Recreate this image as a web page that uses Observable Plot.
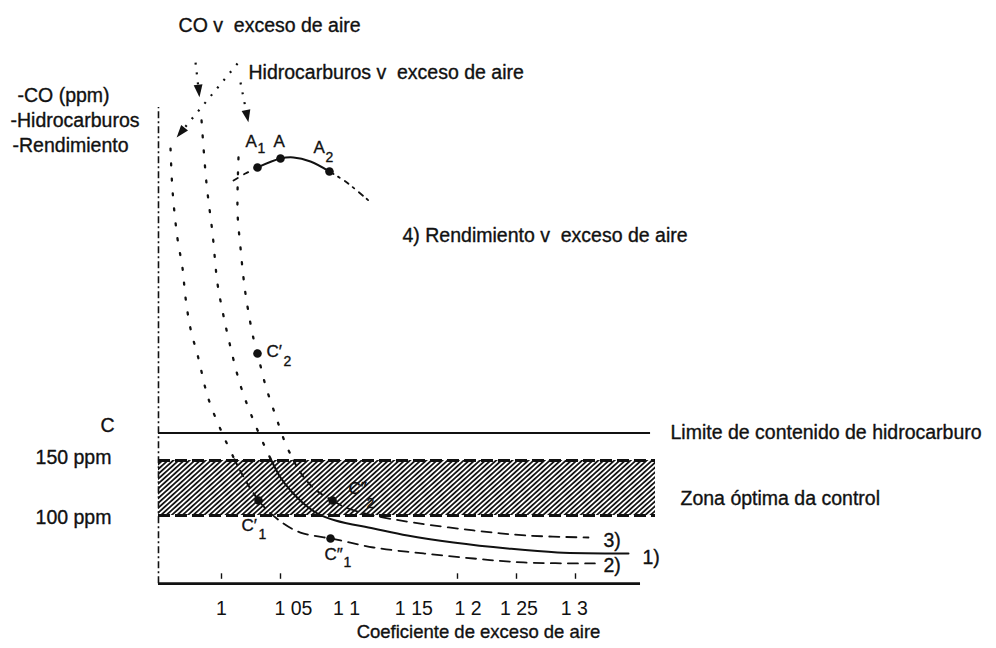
<!DOCTYPE html>
<html>
<head>
<meta charset="utf-8">
<script src="https://cdn.jsdelivr.net/npm/d3@7"></script>
<script src="https://cdn.jsdelivr.net/npm/@observablehq/plot@0.6"></script>
<style>
  html, body { margin: 0; padding: 0; background: #fff; }
  svg { display: block; }
</style>
</head>
<body>
<div id="chart"></div>
<script>
// ---------- data (x: coeficiente de exceso de aire, y: ppm-like vertical units) ----------
const xTickPos = [1, 1.061, 1.106, 1.163, 1.209, 1.252, 1.299];
const xTickLabels = ["1", "1 05", "1 1", "1 15", "1 2", "1 25", "1 3"];
const xTickMarks = [1, 1.05, 1.2, 1.25, 1.3];

const yAxisBase = 38;       // bottom axis line
const yAxisTop = 471;       // top of the vertical axis
const xAxisLeft = 0.9466;
const xAxisRight = 1.3551;
const limitC = 175;         // C: límite de contenido de hidrocarburo
const limitRight = 1.3636;
const zone = {lo: 100, hi: 150, right: 1.3678};

// curve a (dotted) -> curve 2
const curveA_dot = [[0.9568,433.6],[0.9585,395.5],[0.9627,351.8],[0.9669,325.5],[0.9695,298.2],[0.9737,270],[0.9805,242.7],[0.9864,215.5],[0.9915,198.2],[1.0034,168.2],[1.0110,151]];
const curveA_dash = [[1.0110,151],[1.0144,143.6],[1.0229,127.3],[1.0314,113.6]];
const curve2 = [[1.0314,113.6],[1.0373,106.4],[1.0525,92.7],[1.0669,84.5],[1.0924,79.1],[1.1008,77.3],[1.1288,70.9],[1.1712,65.5],[1.2136,60.9],[1.2559,57.3],[1.3186,56.4]];

// curve b (dotted) -> curve 1 (solid)
const curveB_dot = [[0.9831,459.1],[0.9873,401.8],[0.9924,356.4],[0.9966,310.9],[1.0008,286.4],[1.0059,260.9],[1.0161,218.2],[1.0271,186.4],[1.0390,157.3],[1.0415,151.8]];
const curve1 = [[1.0415,151.8],[1.05,134.5],[1.0585,122.7],[1.0695,110.9],[1.0814,101.8],[1.0966,95.5],[1.1288,88.2],[1.1576,81.8],[1.1966,75.5],[1.2424,70.0],[1.2847,66.4],[1.3449,65.5]];

// curve c (dotted) -> curve 3
const curveC_dot = [[1.0144,425.5],[1.0136,375.5],[1.0161,343.6],[1.0186,316.4],[1.0212,295.5],[1.0271,260.9],[1.0305,247.3],[1.0373,218.2],[1.0458,190.9],[1.0542,165.5],[1.0610,150]];
const curveC_dash = [[1.0610,150],[1.0686,136.4],[1.0805,122.7],[1.0941,113.6]];
const curve3 = [[1.0941,113.6],[1.1051,107.3],[1.1288,100],[1.1627,93.6],[1.2136,86.4],[1.2593,81.8],[1.3110,80]];

// curve 4: rendimiento
const curve4_left = [[1.0102,404.5],[1.0203,410.9],[1.0305,416.4]];
const curve4_mid = [[1.0305,416.4],[1.05,424.5],[1.061,425.5],[1.0754,421.8],[1.0915,412.7]];
const curve4_right = [[1.0915,412.7],[1.1051,403.6],[1.1246,386.4]];

// marked points
const points = [[1.0305,416.4],[1.05,424.5],[1.0915,412.7],[1.0305,247.3],[1.0314,113.6],[1.0941,113.6],[1.0924,79.1]];

// arrows: from -> head
const arrowFrom = [[0.9780,511.8],[1.0136,510.9],[1.0161,493.6]];
const arrowHead = [[0.9806,487.3],[0.9662,449.2],[1.0215,464.4]];

// point labels (start-anchored) and their subscripts
const bigLabels = [
  {t:"A", x:1.0203, y:440}, {t:"A", x:1.0441, y:440}, {t:"A", x:1.0780, y:434.5},
  {t:"C′", x:1.0381, y:249.1}, {t:"C′", x:1.0169, y:90.9},
  {t:"C″", x:1.0873, y:64.5}, {t:"C″", x:1.1076, y:124.5}
];
const subLabels = [
  {t:"1", x:1.0305, y:433.6}, {t:"2", x:1.0881, y:425.5},
  {t:"2", x:1.0525, y:240},   {t:"1", x:1.0314, y:82.7},
  {t:"1", x:1.1034, y:57.3},  {t:"2", x:1.1229, y:110.9}
];

// text annotations (start-anchored)
const texts = [
  {t:"CO v  exceso de aire", x:0.9636, y:545.5},
  {t:"Hidrocarburos v  exceso de aire", x:1.0229, y:502.7},
  {t:"-CO (ppm)", x:0.8271, y:481.8},
  {t:"-Hidrocarburos", x:0.8212, y:459.1},
  {t:"-Rendimiento", x:0.8229, y:436.4},
  {t:"4) Rendimiento v  exceso de aire", x:1.1534, y:354.5},
  {t:"C", x:0.8975, y:181.8},
  {t:"150 ppm", x:0.8424, y:152.7},
  {t:"100 ppm", x:0.8424, y:98.2},
  {t:"Limite de contenido de hidrocarburo", x:1.3805, y:175.5},
  {t:"Zona óptima da control", x:1.3890, y:115.5},
  {t:"3)", x:1.3237, y:77.3},
  {t:"1)", x:1.3568, y:61.8},
  {t:"2)", x:1.3237, y:54.5}
];
const xTitle = {t:"Coeficiente de exceso de aire", x:1.2178, y:-6.4};

// ---------- chart ----------
const xCfg = {domain: [1, 1.3], range: [221, 575]};
const yCfg = {domain: [100, 150], range: [515, 460]};
const px = d3.scaleLinear(xCfg.domain, xCfg.range);
const py = d3.scaleLinear(yCfg.domain, yCfg.range);

const arrows = arrowFrom.map((f, i) => ({from: f, to: arrowHead[i]}));
const angle = d => {
  const dx = px(d.to[0]) - px(d.from[0]);
  const dy = py(d.to[1]) - py(d.from[1]);
  return Math.atan2(dx, -dy) * 180 / Math.PI;
};
const arrowSymbol = {
  draw(c, size) {
    const r = Math.sqrt(size / Math.PI);
    c.moveTo(0, -1.5 * r);
    c.lineTo(0.85 * r, 0.9 * r);
    c.lineTo(-0.85 * r, 0.9 * r);
    c.closePath();
  }
};

const ink = "#111";
const FONT = "Liberation Sans, Arial, Helvetica, sans-serif";
const textInk = {fill: ink, stroke: ink, strokeWidth: 0.35, fontFamily: FONT};
const dotted = {stroke: ink, strokeWidth: 2.3, strokeDasharray: "2,13", curve: "catmull-rom"};
const dashed = {stroke: ink, strokeWidth: 1.8, strokeDasharray: "10,7", curve: "catmull-rom"};

const svg = Plot.plot({
  width: 996,
  height: 648,
  marginTop: 0, marginLeft: 0, marginRight: 0, marginBottom: 65,
  x: {...xCfg},
  y: {...yCfg, axis: null},
  style: {fontFamily: FONT, background: "#fff", color: ink},
  marks: [
    // hatched optimal zone
    Plot.rect([zone], {x1: xAxisLeft, x2: d => d.right, y1: d => d.lo, y2: d => d.hi, fill: "url(#hatch)"}),
    Plot.ruleY([zone.lo, zone.hi], {x1: xAxisLeft, x2: zone.right, stroke: ink, strokeWidth: 2.8, strokeDasharray: "12,5"}),
    // limit C
    Plot.ruleY([limitC], {x1: xAxisLeft, x2: limitRight, stroke: ink, strokeWidth: 2}),
    // axes lines
    Plot.ruleX([xAxisLeft], {y1: yAxisBase, y2: yAxisTop, stroke: ink, strokeWidth: 1.6, strokeDasharray: "7,3,2,3"}),
    Plot.ruleY([yAxisBase], {x1: xAxisLeft, x2: xAxisRight, stroke: ink, strokeWidth: 2.8}),
    Plot.ruleX(xTickMarks, {y1: yAxisBase + 4, y2: yAxisBase + 9, stroke: ink, strokeWidth: 1.4}),
    Plot.axisX(xTickPos, {tickSize: 0, tickPadding: 18, fontSize: 19.5, ...textInk, label: null,
      tickFormat: d => xTickLabels[xTickPos.indexOf(d)]}),
    // curves
    Plot.line(curveA_dot, dotted),
    Plot.line(curveA_dash, {...dashed, strokeDasharray: "6,7", strokeWidth: 2}),
    Plot.line(curve2, dashed),
    Plot.line(curveB_dot, dotted),
    Plot.line(curve1, {stroke: ink, strokeWidth: 2, curve: "catmull-rom"}),
    Plot.line(curveC_dot, dotted),
    Plot.line(curveC_dash, {...dashed, strokeDasharray: "6,7", strokeWidth: 2}),
    Plot.line(curve3, dashed),
    Plot.line(curve4_left, {...dashed, strokeDasharray: "5,7"}),
    Plot.line(curve4_mid, {stroke: ink, strokeWidth: 2, curve: "catmull-rom"}),
    Plot.line(curve4_right, {...dashed, strokeDasharray: "5,5,2,6"}),
    // arrows
    Plot.link(arrows, {x1: d => d.from[0], y1: d => d.from[1], x2: d => d.to[0], y2: d => d.to[1],
      stroke: ink, strokeWidth: 2.2, strokeDasharray: "2,8"}),
    Plot.dot(arrows, {x: d => d.to[0], y: d => d.to[1], symbol: arrowSymbol, r: 5.2, fill: ink, stroke: "none", rotate: angle}),
    // points
    Plot.dot(points, {x: d => d[0], y: d => d[1], r: 4.3, fill: ink, stroke: "none"}),
    // labels
    Plot.text(bigLabels, {x: "x", y: "y", text: "t", textAnchor: "start", fontSize: 17, ...textInk}),
    Plot.text(subLabels, {x: "x", y: "y", text: "t", textAnchor: "start", fontSize: 14, ...textInk}),
    Plot.text(texts, {x: "x", y: "y", text: "t", textAnchor: "start", fontSize: 19.5, ...textInk}),
    Plot.text([xTitle], {x: "x", y: "y", text: "t", fontSize: 18.5, ...textInk})
  ]
});

// hatch pattern definition
const NS = "http://www.w3.org/2000/svg";
const defs = document.createElementNS(NS, "defs");
const pat = document.createElementNS(NS, "pattern");
pat.setAttribute("id", "hatch");
pat.setAttribute("patternUnits", "userSpaceOnUse");
pat.setAttribute("width", "3.6");
pat.setAttribute("height", "4");
pat.setAttribute("patternTransform", "rotate(48)");
const bg = document.createElementNS(NS, "rect");
bg.setAttribute("width", "3.6"); bg.setAttribute("height", "4"); bg.setAttribute("fill", "#ffffff");
const ln = document.createElementNS(NS, "rect");
ln.setAttribute("x", "0"); ln.setAttribute("y", "0"); ln.setAttribute("width", "1.8"); ln.setAttribute("height", "4"); ln.setAttribute("fill", "#151515");
pat.appendChild(bg); pat.appendChild(ln);
defs.appendChild(pat);
svg.insertBefore(defs, svg.firstChild);

document.getElementById("chart").appendChild(svg);
</script>
</body>
</html>
